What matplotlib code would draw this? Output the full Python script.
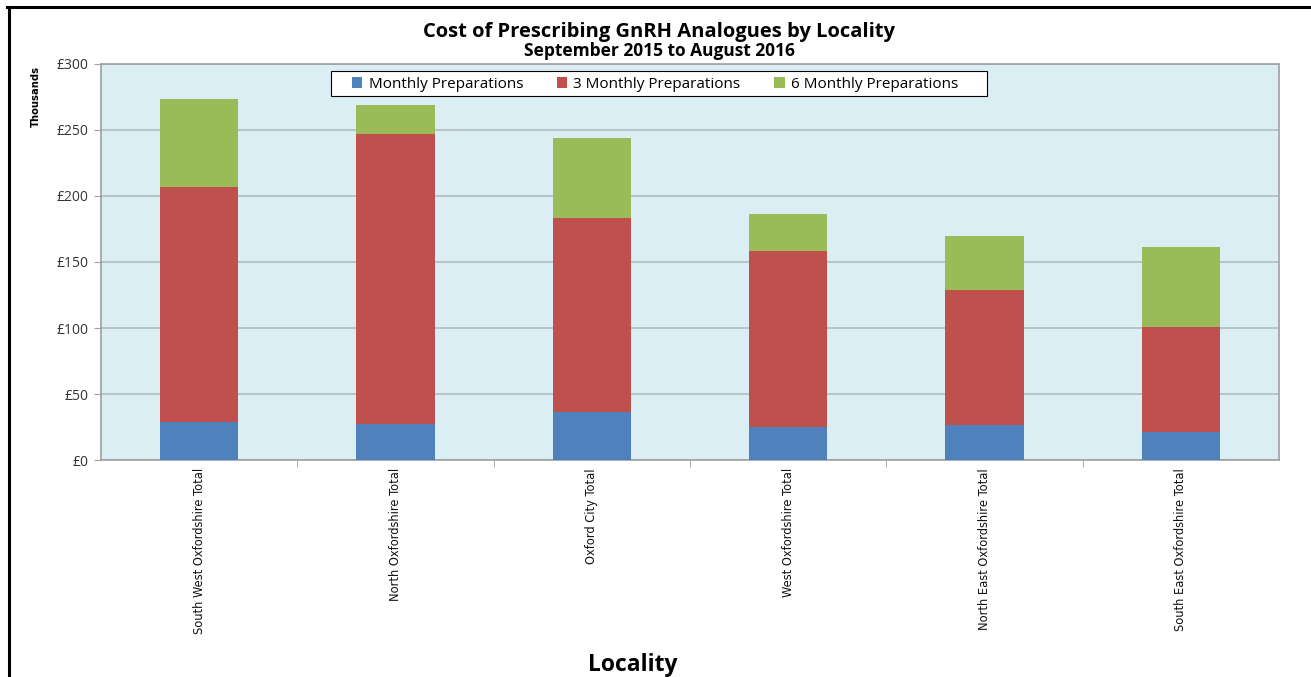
import matplotlib.pyplot as plt
import matplotlib.lines as mlines
import matplotlib.patches as mpatches
import numpy as np

localities = ['South West Oxfordshire Total', 'North Oxfordshire Total', 'Oxford City Total',
              'West Oxfordshire Total', 'North East Oxfordshire Total', 'South East Oxfordshire Total']
monthly = [28.5, 27.3, 36.4, 25.0, 26.5, 21.5]
three_monthly = [178.1, 219.4, 147.2, 133.3, 102.3, 79.0]
six_monthly = [66.7, 22.3, 60.1, 28.1, 40.9, 60.5]

series_names = ['Monthly Preparations', '3 Monthly Preparations', '6 Monthly Preparations']
colors = ['#4f81bd', '#c0504d', '#9bbb59']
yticks = [0, 50, 100, 150, 200, 250, 300]

fig = plt.figure(figsize=(13.11, 6.77), dpi=100)
ax = fig.add_axes([0.0770, 0.3205, 0.8986, 0.585])

x = np.arange(len(localities))
bottom = np.zeros(len(localities))
for vals, name, c in zip([monthly, three_monthly, six_monthly], series_names, colors):
    ax.bar(x, vals, 0.4, bottom=bottom, color=c, label=name, zorder=3)
    bottom += np.array(vals)

ax.set_facecolor('#dbeef4')
ax.set_xlim(-0.5, len(localities) - 0.5)
ax.set_ylim(0, 300)
ax.set_yticks(yticks)
ax.set_yticklabels(['£%d' % v for v in yticks], fontsize=10, family='Open Sans', color='#333333')
ax.yaxis.grid(True, color='#b0bcc2', linewidth=1.2, zorder=0)
for s in ax.spines.values():
    s.set_color('#a0a0a0')
    s.set_linewidth(1.2)
ax.tick_params(axis='y', length=5, color='#a0a0a0', pad=4)

# category labels, with tick marks between categories
ax.set_xticks(x)
ax.set_xticklabels(localities, rotation=90, fontsize=9.2, family='DejaVu Sans', stretch='condensed',
                   color='#111111')
ax.tick_params(axis='x', length=0, pad=6)
ax.set_xticks(np.arange(0.5, len(localities) - 1, 1), minor=True)
ax.tick_params(axis='x', which='minor', length=5, color='#a0a0a0')

# legend box drawn separately so it can be wider than its entries
box = mpatches.Rectangle((0.1952, 0.919), 0.557, 0.0631, transform=ax.transAxes, facecolor='white',
                         edgecolor='black', linewidth=0.8, zorder=5)
ax.add_patch(box)
leg = ax.legend(loc='center', bbox_to_anchor=(0.4703, 0.949), ncol=3, frameon=False,
                prop={'family': 'Open Sans', 'size': 11}, handlelength=0.7, handleheight=0.7,
                handletextpad=0.4, columnspacing=2.2, borderpad=0, borderaxespad=0)
leg.set_zorder(6)

fig.text(0.503, 0.953, 'Cost of Prescribing GnRH Analogues by Locality', ha='center', va='center',
         fontsize=14.5, fontweight='bold', family='Open Sans')
fig.text(0.503, 0.924, 'September 2015 to August 2016', ha='center', va='center',
         fontsize=12.5, fontweight='bold', family='Open Sans')
fig.text(0.027, 0.857, 'Thousands', rotation=90, ha='center', va='center',
         fontsize=8, fontweight='bold', family='DejaVu Sans', stretch='condensed')
fig.text(0.483, 0.017, 'Locality', ha='center', va='center', fontsize=16.5, fontweight='bold', family='Open Sans')

# outer frame lines (left and top)
fig.add_artist(mlines.Line2D([0.0065, 0.0065], [0, 0.99], color='black', linewidth=2.2, transform=fig.transFigure))
fig.add_artist(mlines.Line2D([0.0055, 1.0], [0.99, 0.99], color='black', linewidth=2.2, transform=fig.transFigure))

fig.savefig('out.png', dpi=100)
